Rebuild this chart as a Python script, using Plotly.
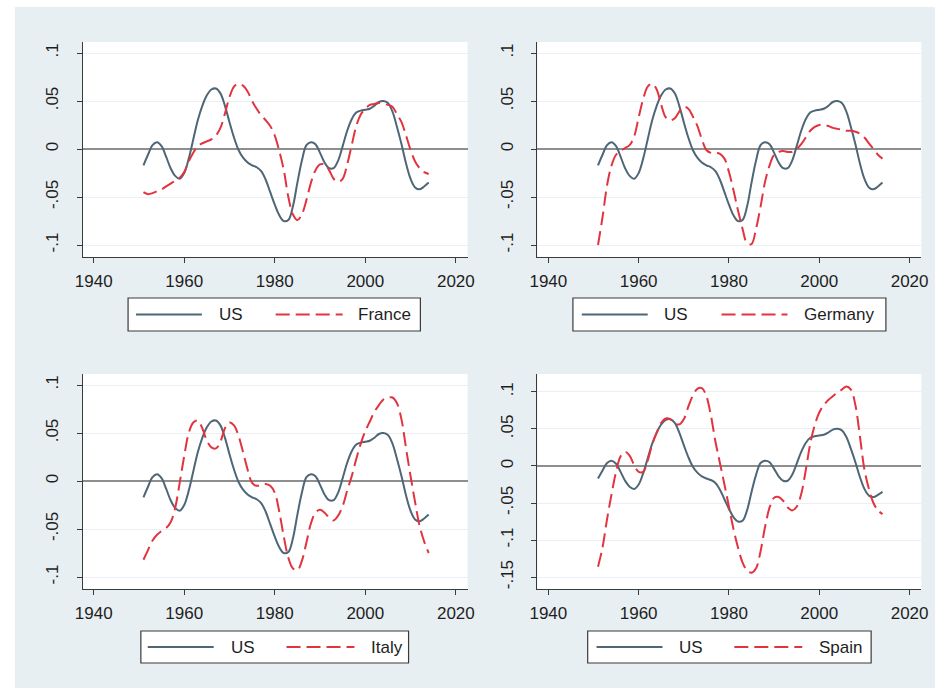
import plotly.graph_objects as go

# ---- data: annual cyclical components, 1951-2014 ----
years = list(range(1951, 2015))

us = [-0.017, -0.006, 0.004, 0.007, 0.003, -0.008, -0.020, -0.028, -0.031, -0.025,
      -0.010, 0.010, 0.030, 0.045, 0.056, 0.062, 0.063, 0.058, 0.045, 0.028,
      0.012, -0.001, -0.009, -0.014, -0.017, -0.019, -0.023, -0.032, -0.045, -0.058,
      -0.069, -0.075, -0.074, -0.060, -0.035, -0.012, 0.004, 0.007, 0.005, -0.004,
      -0.014, -0.020, -0.020, -0.012, 0.003, 0.019, 0.031, 0.038, 0.040, 0.041,
      0.042, 0.045, 0.049, 0.050, 0.048, 0.039, 0.023, 0.005, -0.015, -0.031,
      -0.040, -0.042, -0.039, -0.035]

france = [-0.045, -0.047, -0.046, -0.044, -0.042, -0.039, -0.036, -0.033, -0.030, -0.024,
          -0.013, -0.004, 0.003, 0.006, 0.008, 0.010, 0.014, 0.022, 0.037, 0.054,
          0.065, 0.068, 0.066, 0.060, 0.050, 0.042, 0.035, 0.030, 0.024, 0.014,
          -0.002, -0.022, -0.050, -0.068, -0.074, -0.068, -0.053, -0.035, -0.022, -0.016,
          -0.016, -0.022, -0.031, -0.034, -0.031, -0.016, 0.004, 0.024, 0.036, 0.042,
          0.046, 0.047, 0.048, 0.047, 0.046, 0.044, 0.036, 0.028, 0.014, -0.001,
          -0.013, -0.020, -0.024, -0.026]

germany = [-0.100, -0.071, -0.038, -0.017, -0.006, -0.002, 0.001, 0.004, 0.013, 0.033,
           0.052, 0.065, 0.068, 0.062, 0.046, 0.033, 0.030, 0.032, 0.039, 0.044,
           0.042, 0.034, 0.024, 0.010, -0.001, -0.004, -0.004, -0.005, -0.010, -0.024,
           -0.043, -0.064, -0.083, -0.098, -0.099, -0.083, -0.060, -0.034, -0.017, -0.006,
           -0.003, -0.002, -0.003, -0.003, 0.000, 0.005, 0.012, 0.019, 0.023, 0.025,
           0.025, 0.024, 0.022, 0.021, 0.020, 0.019, 0.019, 0.018, 0.016, 0.012,
           0.006, 0.000, -0.006, -0.010]

italy = [-0.082, -0.072, -0.062, -0.056, -0.052, -0.049, -0.043, -0.028, -0.002, 0.026,
         0.050, 0.061, 0.063, 0.055, 0.042, 0.035, 0.034, 0.041, 0.055, 0.061,
         0.058, 0.047, 0.030, 0.012, -0.002, -0.005, -0.004, -0.003, -0.005, -0.012,
         -0.032, -0.058, -0.080, -0.091, -0.093, -0.083, -0.064, -0.044, -0.033, -0.030,
         -0.033, -0.038, -0.041, -0.036, -0.026, -0.010, 0.005, 0.023, 0.039, 0.052,
         0.062, 0.072, 0.079, 0.085, 0.087, 0.087, 0.081, 0.064, 0.034, 0.005,
         -0.022, -0.047, -0.063, -0.075]

spain = [-0.136, -0.110, -0.072, -0.038, -0.008, 0.013, 0.019, 0.014, 0.001, -0.008,
         -0.008, 0.007, 0.029, 0.045, 0.058, 0.064, 0.063, 0.057, 0.056, 0.063,
         0.080, 0.095, 0.104, 0.105, 0.094, 0.068, 0.033, 0.004, -0.025, -0.055,
         -0.085, -0.110, -0.130, -0.141, -0.144, -0.138, -0.115, -0.082, -0.056, -0.043,
         -0.042, -0.047, -0.056, -0.060, -0.055, -0.038, -0.006, 0.030, 0.055, 0.072,
         0.082, 0.089, 0.094, 0.099, 0.103, 0.107, 0.103, 0.082, 0.040, -0.005,
         -0.031, -0.050, -0.060, -0.065]

countries = ["France", "Germany", "Italy", "Spain"]
country_series = [france, germany, italy, spain]

x_ticks = [1940, 1960, 1980, 2000, 2020]
y_ticks_std = [-0.1, -0.05, 0, 0.05, 0.1]
y_labels_std = ["-.1", "-.05", "0", ".05", ".1"]
y_ticks_wide = [-0.15, -0.1, -0.05, 0, 0.05, 0.1]
y_labels_wide = ["-.15", "-.1", "-.05", "0", ".05", ".1"]

# ---- styling ----
W, H = 949, 697
US_COLOR = "#4E6676"
CTRY_COLOR = "#E2343F"
BG = "#E8EFF2"
FONT = "Liberation Sans, Arial, sans-serif"
TXT = "#1e1e1e"


def px(x):
    return x / W


def py(y):
    return 1 - y / H


# panel boxes in pixels: (left, top, right, bottom)
panels = [
    (76, 42, 467, 257),
    (538, 42, 928, 257),
    (76, 374, 467, 589),
    (538, 374, 928, 589),
]
y_ranges = [[-0.1125, 0.1115]] * 3 + [[-0.166, 0.124]]

# legend layout per panel: box, US sample, US text x, country sample, country text x
legends = [
    dict(box=(122, 298, 419, 331), us=(130, 197), us_t=212, c=(272, 340), c_t=354),
    dict(box=(574, 298, 892, 331), us=(583, 650), us_t=665, c=(725, 792), c_t=807),
    dict(box=(135, 631, 407, 663), us=(142, 209), us_t=225, c=(283, 352), c_t=367),
    dict(box=(589, 631, 877, 663), us=(598, 665), us_t=680, c=(738, 807), c_t=822),
]

fig = go.Figure()
shapes = [
    dict(type="rect", xref="paper", yref="paper", x0=px(7), x1=px(942), y0=py(688), y1=py(7),
         fillcolor=BG, line=dict(width=0), layer="below"),
]
annotations = []

for i, (name, vals) in enumerate(zip(countries, country_series)):
    n = i + 1
    xa = "x" if n == 1 else f"x{n}"
    ya = "y" if n == 1 else f"y{n}"
    fig.add_trace(go.Scatter(x=years, y=us, mode="lines", name="US", xaxis=xa, yaxis=ya,
                             line=dict(color=US_COLOR, width=2, shape="spline", smoothing=1.0),
                             showlegend=False))
    fig.add_trace(go.Scatter(x=years, y=vals, mode="lines", name=name, xaxis=xa, yaxis=ya,
                             line=dict(color=CTRY_COLOR, width=2, dash="14px,6px",
                                       shape="spline", smoothing=1.0),
                             showlegend=False))

    l, t, r, b = panels[i]
    wide = (i == 3)
    xkey = "xaxis" if n == 1 else f"xaxis{n}"
    ykey = "yaxis" if n == 1 else f"yaxis{n}"
    fig.layout[xkey] = dict(
        domain=[px(l), px(r)], anchor=ya, range=[1937.6, 2022.6],
        tickvals=x_ticks, ticktext=[str(v) for v in x_ticks],
        showgrid=False, zeroline=False, showline=True, linecolor="#3a3a3a", linewidth=1.3,
        ticks="outside", ticklen=5, tickcolor="#3a3a3a", tickwidth=1.3,
        tickfont=dict(family=FONT, size=17, color=TXT), ticklabelstandoff=3,
    )
    fig.layout[ykey] = dict(
        domain=[py(b), py(t)], anchor=xa, range=y_ranges[i],
        tickvals=y_ticks_wide if wide else y_ticks_std,
        ticktext=y_labels_wide if wide else y_labels_std,
        tickangle=-90,
        showgrid=True, gridcolor="#EBEFF1", gridwidth=1,
        zeroline=True, zerolinecolor="#8E8E8E", zerolinewidth=1.5,
        showline=True, linecolor="#3a3a3a", linewidth=1.3,
        ticks="outside", ticklen=5, tickcolor="#3a3a3a", tickwidth=1.3,
        tickfont=dict(family=FONT, size=17, color=TXT), ticklabelstandoff=12,
    )

    # white plot region behind each panel
    shapes.append(dict(type="rect", xref="paper", yref="paper", x0=px(l), x1=px(r),
                       y0=py(b), y1=py(t), fillcolor="white", line=dict(width=0), layer="below"))

    # legend box for the panel
    lg = legends[i]
    bx0, by0, bx1, by1 = lg["box"]
    ymid = (by0 + by1) / 2
    shapes.append(dict(type="rect", xref="paper", yref="paper", x0=px(bx0), x1=px(bx1),
                       y0=py(by1), y1=py(by0), fillcolor="white",
                       line=dict(color="#3a3a3a", width=1.2)))
    shapes.append(dict(type="line", xref="paper", yref="paper",
                       x0=px(lg["us"][0]), x1=px(lg["us"][1]), y0=py(ymid), y1=py(ymid),
                       line=dict(color=US_COLOR, width=2)))
    shapes.append(dict(type="line", xref="paper", yref="paper",
                       x0=px(lg["c"][0]), x1=px(lg["c"][1]), y0=py(ymid), y1=py(ymid),
                       line=dict(color=CTRY_COLOR, width=2, dash="14px,6px")))
    annotations.append(dict(text="US", xref="paper", yref="paper", x=px(lg["us_t"]), y=py(ymid),
                            xanchor="left", yanchor="middle", showarrow=False,
                            font=dict(family=FONT, size=17, color=TXT)))
    annotations.append(dict(text=name, xref="paper", yref="paper", x=px(lg["c_t"]), y=py(ymid),
                            xanchor="left", yanchor="middle", showarrow=False,
                            font=dict(family=FONT, size=17, color=TXT)))

fig.update_layout(
    width=W, height=H, margin=dict(l=0, r=0, t=0, b=0),
    paper_bgcolor="white", plot_bgcolor="rgba(0,0,0,0)",
    shapes=shapes, annotations=annotations, showlegend=False,
)

fig.write_html("out.html")
